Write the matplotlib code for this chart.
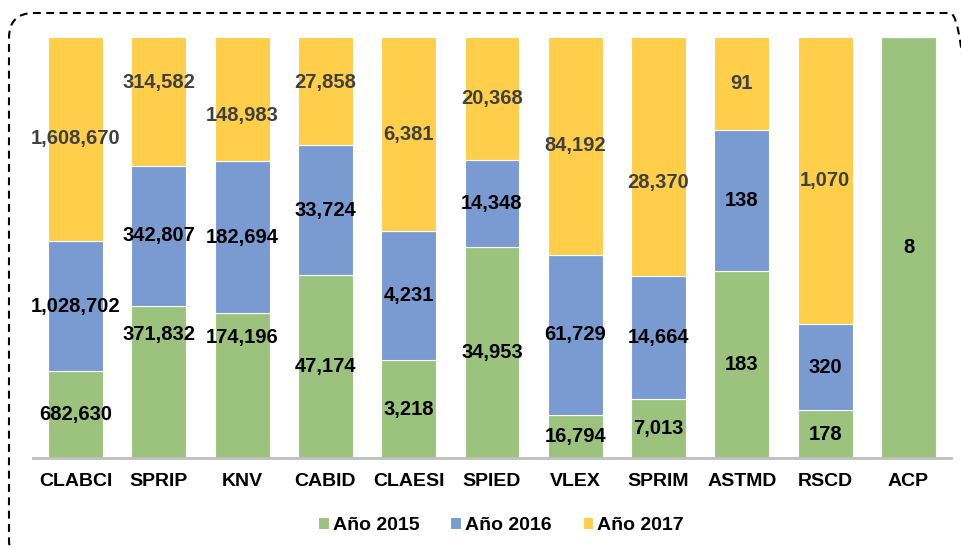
import numpy as np
import matplotlib.pyplot as plt
from matplotlib.patches import FancyBboxPatch

# Categories and yearly counts (100% stacked)
categories = ['CLABCI', 'SPRIP', 'KNV', 'CABID', 'CLAESI', 'SPIED',
              'VLEX', 'SPRIM', 'ASTMD', 'RSCD', 'ACP']
y2015 = [682630, 371832, 174196, 47174, 3218, 34953, 16794, 7013, 183, 178, 8]
y2016 = [1028702, 342807, 182694, 33724, 4231, 14348, 61729, 14664, 138, 320, 0]
y2017 = [1608670, 314582, 148983, 27858, 6381, 20368, 84192, 28370, 91, 1070, 0]
series_names = ['Año 2015', 'Año 2016', 'Año 2017']

colors = ['#9BC37D', '#799BD1', '#FFCE4A']
label_colors = ['black', 'black', '#404040']

# manual nudges for some labels (axis fraction), as in the original
label_nudge = {
    (0, 'SPRIP'): 0.112, (0, 'KNV'): 0.114,
    (2, 'SPRIP'): 0.045, (2, 'KNV'): -0.040,
    (2, 'CABID'): 0.021, (2, 'SPRIM'): -0.062,
}

plt.rcParams['font.family'] = ['Liberation Sans', 'DejaVu Sans']

values = np.array([y2015, y2016, y2017], dtype=float)
shares = values / values.sum(axis=0)

fig = plt.figure(figsize=(9.61, 5.5), dpi=100)
ax = fig.add_axes([33 / 961, 92 / 550, 918 / 961, 421 / 550])

x = np.arange(len(categories))
bottom = np.zeros(len(categories))
for i, name in enumerate(series_names):
    ax.bar(x, shares[i], width=0.66, bottom=bottom, color=colors[i],
           edgecolor='white', linewidth=0.8, label=name)
    for j, cat in enumerate(categories):
        if values[i, j] == 0:
            continue
        yc = bottom[j] + shares[i, j] / 2 + label_nudge.get((i, cat), 0)
        ax.text(x[j], yc, f"{int(values[i, j]):,}", ha='center', va='center',
                fontsize=14.5, fontweight='bold', color=label_colors[i])
    bottom += shares[i]

ax.set_xlim(-0.51, len(categories) - 0.49)
ax.set_ylim(0, 1)
ax.set_xticks(x)
ax.set_xticklabels(categories, fontsize=14, fontweight='bold')
ax.tick_params(axis='x', length=0, pad=11)
ax.set_yticks([])
for side in ['left', 'right', 'top']:
    ax.spines[side].set_visible(False)
ax.spines['bottom'].set_color('#BFBFBF')
ax.spines['bottom'].set_linewidth(2)

leg = fig.legend(loc='center', bbox_to_anchor=(501 / 961, 0.045), ncol=3,
                 frameon=False, handlelength=0.55, handleheight=0.55,
                 handletextpad=0.2, columnspacing=1.6,
                 prop={'size': 14, 'weight': 'bold'})

# dashed rounded frame around the chart (right and bottom edges run off the image)
frame = FancyBboxPatch((9 / 961, -15 / 550), 966 / 961, 552 / 550,
                       boxstyle='round,pad=0,rounding_size=0.026',
                       transform=fig.transFigure, fill=False,
                       edgecolor='black', linewidth=1.5, linestyle=(0, (3.8, 2.6)),
                       mutation_aspect=961 / 550, clip_on=False)
fig.patches.append(frame)

plt.savefig('out.png', dpi=100)
